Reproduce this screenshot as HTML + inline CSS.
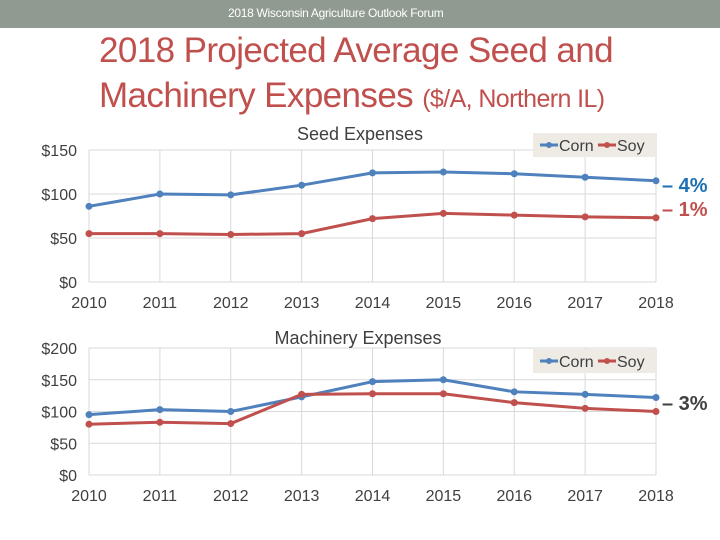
<!DOCTYPE html>
<html><head><meta charset="utf-8"><style>
body{margin:0;width:720px;height:540px;background:#fff;overflow:hidden;font-family:"Liberation Sans",sans-serif;position:relative}
.hdr{position:absolute;left:0;top:0;width:720px;height:28px;background:#8f9b90}
.hdr div{position:absolute;left:228px;top:0;color:#fff;font-size:12px;line-height:26px;letter-spacing:-0.3px}
.title{position:absolute;left:99px;top:28px;color:#c0504d;font-size:35px;line-height:45px;letter-spacing:-0.6px;white-space:nowrap}
.title span{font-size:25px}
svg{position:absolute;left:0;top:0}
</style></head><body>
<div class="hdr"><div>2018 Wisconsin Agriculture Outlook Forum</div></div>
<div class="title">2018 Projected Average Seed and<br>Machinery Expenses <span>($/A, Northern IL)</span></div>
<svg id="c" width="720" height="540"></svg>
<script>
const years=['2010','2011','2012','2013','2014','2015','2016','2017','2018'];
const seedCorn=[86,100,99,110,124,125,123,119,115];
const seedSoy=[55,55,54,55,72,78,76,74,73];
const seedTicks=[0,50,100,150];
const machCorn=[95,103,100,123,147,150,131,127,122];
const machSoy=[80,83,81,127,128,128,114,105,100];
const machTicks=[0,50,100,150,200];
const NS='http://www.w3.org/2000/svg';
const svg=document.getElementById('c');
function mk(t,a,txt){const e=document.createElementNS(NS,t);for(const k in a)e.setAttribute(k,a[k]);if(txt!==undefined)e.textContent=txt;svg.appendChild(e);return e;}
function chart(cfg){
  const x0=89,x1=656,yb=cfg.yb,yt=cfg.yt,max=cfg.ticks[cfg.ticks.length-1];
  const X=i=>x0+(x1-x0)*i/(years.length-1);
  const Y=v=>yb-(yb-yt)*v/max;
  cfg.ticks.forEach(t=>{
    const l=mk('line',{x1:x0,x2:x1,y1:Y(t),y2:Y(t),stroke:'#d9d9d9','stroke-width':1});
    
    
    const tx=mk('text',{x:x0-12,y:Y(t)+6,'text-anchor':'end','font-size':16,fill:'#404040'},'$'+t);
    
    
  });
  years.forEach((y,i)=>{
    const l=mk('line',{x1:X(i),x2:X(i),y1:yt,y2:yb,stroke:'#d9d9d9','stroke-width':1});
    
    
    const tx=mk('text',{x:X(i),y:yb+26,'text-anchor':'middle','font-size':16,fill:'#404040'},y);
    
    
  });
  const ttl=mk('text',{x:cfg.tx,y:cfg.ty,'text-anchor':'middle','font-size':18,fill:'#404040'},cfg.title);
  
  
  [[cfg.corn,'#4f81bd','corn'],[cfg.soy,'#c0504d','soy']].forEach(([d,c,n])=>{
    const p=mk('polyline',{points:d.map((v,i)=>X(i)+','+Y(v)).join(' '),fill:'none',stroke:c,'stroke-width':3});
    
    
    d.forEach((v,i)=>{const m=mk('circle',{cx:X(i),cy:Y(v),r:3.5,fill:c});
      
      });
  });
  const lg=mk('rect',{x:533,y:cfg.ly-12,width:124,height:24,fill:'#eeeae4'});
  
  
  [[540,'#4f81bd','Corn'],[598,'#c0504d','Soy']].forEach(([lx,c,n])=>{
    mk('line',{x1:lx,x2:lx+18,y1:cfg.ly,y2:cfg.ly,stroke:c,'stroke-width':3});
    mk('circle',{cx:lx+9,cy:cfg.ly,r:3,fill:c});
    const t=mk('text',{x:lx+19,y:cfg.ly+6,'font-size':16,fill:'#404040'},n);
    
    
  });
}
chart({yb:282,yt:150,ticks:seedTicks,corn:seedCorn,soy:seedSoy,title:'Seed Expenses',tx:360,ty:140,ly:145});
chart({yb:475,yt:348,ticks:machTicks,corn:machCorn,soy:machSoy,title:'Machinery Expenses',tx:358,ty:344,ly:361});
const a1=mk('text',{x:662,y:192,'font-size':20,'font-weight':'bold',fill:'#1f6fb5'},'– 4%');


const a2=mk('text',{x:662,y:216,'font-size':20,'font-weight':'bold',fill:'#c0504d'},'– 1%');


const a3=mk('text',{x:662,y:410,'font-size':20,'font-weight':'bold',fill:'#404040'},'– 3%');


</script>
</body></html>
